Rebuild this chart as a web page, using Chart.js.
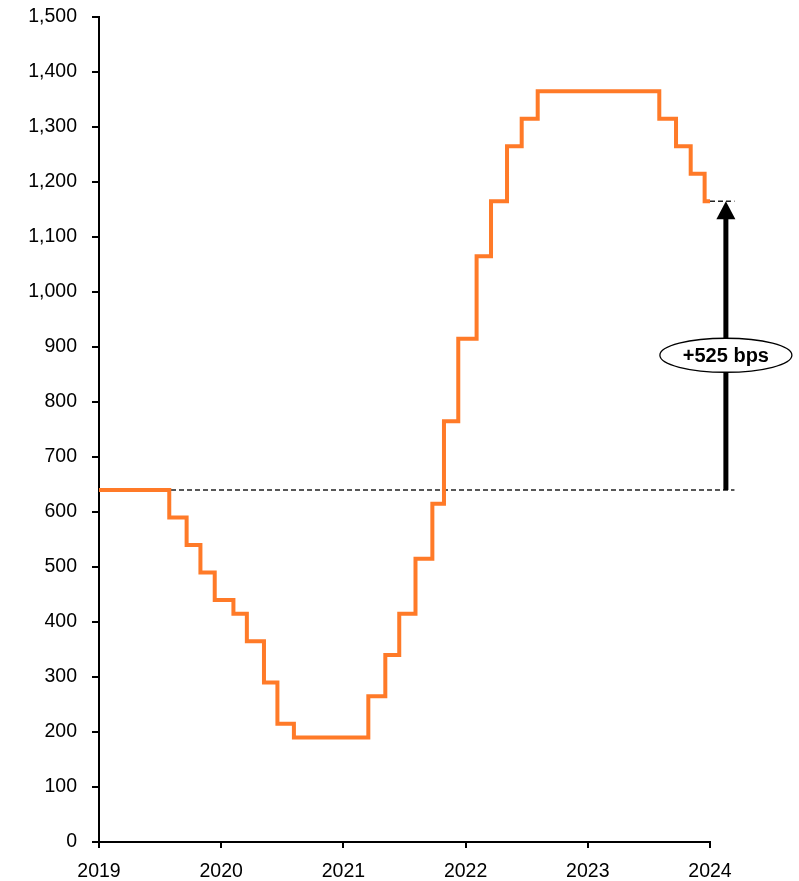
<!DOCTYPE html>
<html>
<head>
<meta charset="utf-8">
<script src="https://cdn.jsdelivr.net/npm/chart.js@4/dist/chart.umd.min.js"></script>
<style>
  html, body { margin: 0; padding: 0; background: #fff; }
  #wrap { width: 799px; height: 881px; }
</style>
</head>
<body>
<div id="wrap"><canvas id="c" width="799" height="881"></canvas></div>
<script>
// Policy rate path (bps): each entry is the date a change took effect and the new level
const changeDates = [
  2019.0, 2019.575, 2019.717, 2019.83, 2019.947, 2020.10, 2020.21, 2020.35, 2020.46, 2020.595,
  2021.204, 2021.343, 2021.457, 2021.59, 2021.728, 2021.823, 2021.94, 2022.09, 2022.208,
  2022.339, 2022.459, 2022.59, 2023.585, 2023.722, 2023.842, 2023.956, 2024.0
];
const rateLevels = [
  640, 590, 540, 490, 440, 415, 365, 290, 215, 190,
  265, 340, 415, 515, 615, 765, 915, 1065, 1165,
  1265, 1315, 1365, 1315, 1265, 1215, 1165, 1165
];
const yearTicks = [2019, 2020, 2021, 2022, 2023, 2024];

// Reference levels for the annotation
const startLevel = 640;
const endLevel = 1165;
const refLineStart = 2019.0;
const refLineEnd = 2024.2;
const endLineStart = 2024.0;
const arrowDate = 2024.13;
const labelLevel = 885;
const labelText = '+525 bps';

const stepPoints = changeDates.map((d, i) => ({ x: d, y: rateLevels[i] }));

const FONT = '"Liberation Sans", Arial, Helvetica, sans-serif';

const arrowPlugin = {
  id: 'arrowLabel',
  afterDatasetsDraw(chart) {
    const ctx = chart.ctx;
    const xs = chart.scales.x, ys = chart.scales.y;
    const ax = xs.getPixelForValue(arrowDate);
    const yBase = ys.getPixelForValue(startLevel);
    const yTip = ys.getPixelForValue(endLevel);
    const headH = 18, headW = 9.5;
    ctx.save();
    // shaft
    ctx.strokeStyle = '#000';
    ctx.lineWidth = 5;
    ctx.beginPath();
    ctx.moveTo(ax, yBase);
    ctx.lineTo(ax, yTip + headH - 1);
    ctx.stroke();
    // head
    ctx.fillStyle = '#000';
    ctx.beginPath();
    ctx.moveTo(ax, yTip);
    ctx.lineTo(ax - headW, yTip + headH);
    ctx.lineTo(ax + headW, yTip + headH);
    ctx.closePath();
    ctx.fill();
    // label bubble
    const ly = ys.getPixelForValue(labelLevel);
    ctx.beginPath();
    ctx.ellipse(ax, ly, 66, 17, 0, 0, Math.PI * 2);
    ctx.fillStyle = '#fff';
    ctx.fill();
    ctx.lineWidth = 1.3;
    ctx.strokeStyle = '#000';
    ctx.stroke();
    ctx.fillStyle = '#000';
    ctx.font = 'bold 20px ' + FONT;
    ctx.textAlign = 'center';
    ctx.textBaseline = 'middle';
    ctx.fillText(labelText, ax, ly + 1);
    ctx.restore();
  }
};

new Chart(document.getElementById('c'), {
  type: 'line',
  data: {
    datasets: [
      {
        data: stepPoints,
        stepped: 'before',
        borderColor: '#FF7A28',
        borderWidth: 4,
        pointRadius: 0,
        fill: false,
        borderJoinStyle: 'miter',
        borderCapStyle: 'butt'
      },
      {
        data: [{ x: refLineStart, y: startLevel }, { x: refLineEnd, y: startLevel }],
        borderColor: '#222',
        borderWidth: 1.4,
        borderDash: [5, 3],
        pointRadius: 0,
        clip: false
      },
      {
        data: [{ x: endLineStart, y: endLevel }, { x: refLineEnd, y: endLevel }],
        borderColor: '#222',
        borderWidth: 1.4,
        borderDash: [5, 3],
        pointRadius: 0,
        clip: false
      }
    ]
  },
  options: {
    responsive: false,
    animation: false,
    devicePixelRatio: 1,
    layout: { padding: { top: 17, left: 0, right: 89, bottom: 0 } },
    plugins: { legend: { display: false }, tooltip: { enabled: false } },
    scales: {
      x: {
        type: 'linear',
        min: 2019,
        max: 2024,
        afterBuildTicks(scale) { scale.ticks = yearTicks.map(v => ({ value: v })); },
        afterFit(scale) { scale.height = 39; },
        ticks: {
          callback: v => String(v),
          color: '#000',
          font: { family: FONT, size: 19.5 },
          padding: 12,
          maxRotation: 0,
          autoSkip: false
        },
        grid: { display: true, drawOnChartArea: false, drawTicks: true, tickLength: 6, color: '#000', lineWidth: 2 },
        border: { display: true, color: '#000', width: 2 }
      },
      y: {
        min: 0,
        max: 1500,
        afterFit(scale) {
          scale.width = 99;
          scale.paddingTop = 0;
          scale.paddingBottom = 0;
        },
        ticks: {
          stepSize: 100,
          color: '#000',
          font: { family: FONT, size: 19.5 },
          padding: 15
        },
        grid: { display: true, drawOnChartArea: false, drawTicks: true, tickLength: 7, color: '#000', lineWidth: 2 },
        border: { display: true, color: '#000', width: 2 }
      }
    }
  },
  plugins: [arrowPlugin]
});
</script>
</body>
</html>
